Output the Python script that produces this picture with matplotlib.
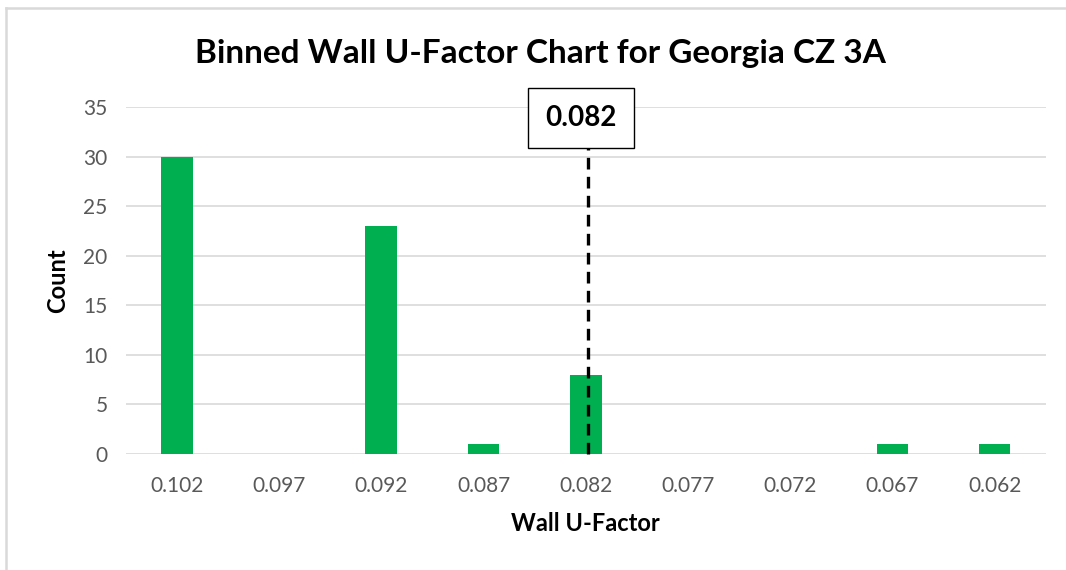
import numpy as np
import matplotlib.pyplot as plt
from matplotlib.lines import Line2D

plt.rcParams['font.family'] = ['Lato', 'DejaVu Sans']

# bins (Wall U-Factor) and counts
bins = ['0.102', '0.097', '0.092', '0.087', '0.082', '0.077', '0.072', '0.067', '0.062']
counts = [30, 0, 23, 1, 8, 0, 0, 1, 1]
marker_label = '0.082'
marker_idx = 4

fig = plt.figure(figsize=(10.66, 5.70), dpi=100)
ax = fig.add_axes([0.118, 0.2035, 0.863, 0.6088])

x = np.arange(len(bins))
ax.bar(x, counts, width=0.31, color='#00B050', zorder=3)

ax.set_xlim(-0.5, len(bins) - 0.5)
ax.set_ylim(0, 35)
ax.set_yticks(range(0, 36, 5))
ax.set_xticks(x)
ax.set_xticklabels(bins)
ax.yaxis.grid(True, color='#D9D9D9', linewidth=1.2, zorder=0)
ax.set_axisbelow(True)
for s in ax.spines.values():
    s.set_visible(False)
ax.tick_params(axis='both', length=0, labelsize=15, labelcolor='#595959')
ax.tick_params(axis='y', pad=13)
ax.tick_params(axis='x', pad=16)

ax.set_xlabel('Wall U-Factor', fontsize=17, fontweight='bold', labelpad=11)
ax.set_ylabel('Count', fontsize=17, fontweight='bold', labelpad=10)

# marker line + label
ax.plot([marker_idx + 0.02, marker_idx + 0.02], [0, 30.9], color='black',
        linestyle=(0, (3.5, 2.2)), linewidth=2.4, zorder=4, clip_on=False)
ax.text(marker_idx - 0.05, 33.9, marker_label, ha='center', va='center',
        fontsize=20, fontweight='bold', zorder=5,
        bbox=dict(boxstyle='square,pad=0.62', facecolor='white', edgecolor='black', linewidth=1))

fig.suptitle('Binned Wall U-Factor Chart for Georgia CZ 3A', x=0.507, y=0.932,
             fontsize=24, fontweight='bold')

# chart area border (left and top visible)
fig.add_artist(Line2D([6 / 1066, 6 / 1066], [0, 1 - 8 / 570], transform=fig.transFigure,
                      color='#D9D9D9', linewidth=1.8))
fig.add_artist(Line2D([6 / 1066, 1], [1 - 8 / 570, 1 - 8 / 570], transform=fig.transFigure,
                      color='#D9D9D9', linewidth=1.8))

fig.savefig('out.png', dpi=100)
